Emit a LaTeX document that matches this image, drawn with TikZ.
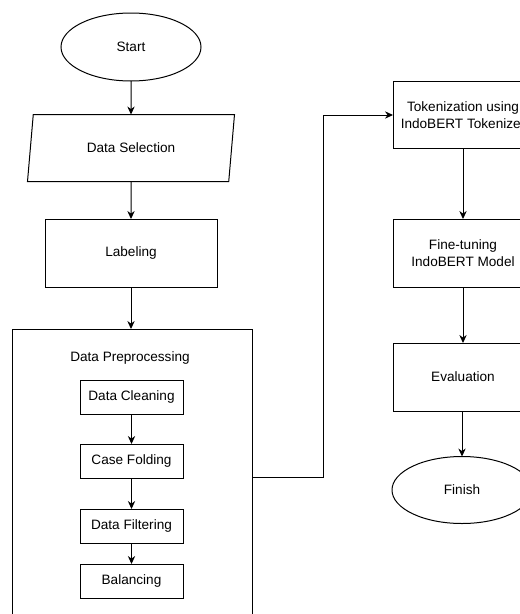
\documentclass[tikz,border=0pt]{standalone}
\usepackage{fontspec}
\setmainfont{Liberation Sans}
\usetikzlibrary{arrows.meta,shapes.geometric,calc}
\tikzset{
  arr/.style={-{Stealth[length=6pt,width=5.5pt]}, line width=0.75pt}
}

\begin{document}
\begin{tikzpicture}[x=0.75pt,y=-0.75pt,line width=0.75pt,
    font=\fontsize{10.2}{12.8}\selectfont,
    main/.style = {draw, rectangle, outer sep=0pt, align=center, minimum width=129pt, minimum height=51pt},
    sub/.style = {draw, rectangle, outer sep=0pt, minimum width=77.25pt, minimum height=25.5pt},
    term/.style = {draw, ellipse, outer sep=0pt, minimum width=105pt, minimum height=51pt},
    io/.style = {draw, trapezium, trapezium left angle=73, trapezium right angle=107,
      trapezium stretches body, outer sep=0pt, minimum width=155.25pt, minimum height=50.25pt}]
      \clip (0,0) rectangle (520,614);

      \node[term] at (131, 47) (start){Start};
      \node[io] at (131, 148) (sel){Data Selection};
      \node[main] at (131, 253) (lab){Labeling};

      \node[draw, rectangle, outer sep=0pt, minimum width=180pt, minimum height=222pt] at (132, 477) (prep){};
      \node at (130, 358) (preplabel){Data Preprocessing};
      \node[sub] at (131.5, 397) (clean){Data Cleaning};
      \node[sub] at (131.5, 461) (fold){Case Folding};
      \node[sub] at (131.5, 526) (filt){Data Filtering};
      \node[sub] at (131.5, 581) (bal){Balancing};

      \node[main, minimum width=105pt, minimum height=50.25pt] at (463, 115) (tok){Tokenization using\\IndoBERT Tokenizer};
      \node[main, minimum width=105pt] at (463, 253) (fine){Fine-tuning\\IndoBERT Model};
      \node[main, minimum width=105pt] at (463, 377) (eval){Evaluation};
      \node[term, minimum height=50.25pt] at (462, 490) (fin){Finish};

      \draw[arr] (start) -- (sel);
      \draw[arr] (sel) -- (lab);
      \draw[arr] (lab) -- (prep.north -| lab);
      \draw[arr] (clean) -- (fold);
      \draw[arr] (fold) -- (filt);
      \draw[arr] (filt) -- (bal);
      \draw[arr] (prep.east) -- ++(71,0) |- (tok.west);
      \draw[arr] (tok) -- (fine);
      \draw[arr] (fine) -- (eval);
      \draw[arr] (eval.south -| fin) -- (fin);

    \end{tikzpicture}
\end{document}
